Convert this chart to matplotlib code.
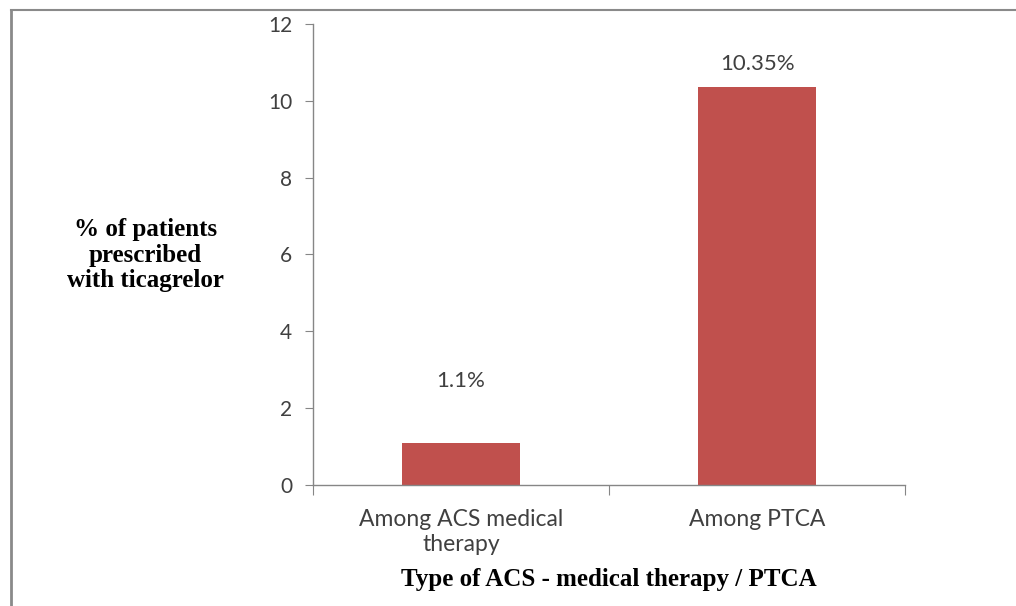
import numpy as np
import matplotlib
matplotlib.use("Agg")
import matplotlib.pyplot as plt
from matplotlib.lines import Line2D

categories = ["Among ACS medical\ntherapy", "Among PTCA"]
values = [1.1, 10.35]
value_labels = ["1.1%", "10.35%"]
yticks = [0, 2, 4, 6, 8, 10, 12]

fig = plt.figure(figsize=(10.16, 6.06), dpi=100)
ax = fig.add_axes([0.308, 0.1997, 0.583, 0.7607])

x = np.arange(len(categories))
ax.bar(x, values, width=0.4, color="#C0504D", zorder=2)

ax.set_xlim(-0.5, len(categories) - 0.5)
ax.set_ylim(0, 12)
ax.set_yticks(yticks)
ax.set_yticklabels([str(t) for t in yticks], fontsize=15, family="Lato", color="#404040")

# category boundaries get the ticks, labels sit in the middle
ax.set_xticks(np.arange(-0.5, len(categories)))
ax.set_xticklabels([])
ax.set_xticks(x, minor=True)
ax.set_xticklabels(categories, minor=True, fontsize=16.5, family="Lato", color="#404040",
                   linespacing=1.25)
ax.tick_params(axis="x", which="minor", length=0, pad=17)
ax.tick_params(axis="x", which="major", length=7, color="#868686", direction="out")
ax.tick_params(axis="y", length=6, color="#868686", direction="out", pad=9)

for s in ["top", "right"]:
    ax.spines[s].set_visible(False)
for s in ["left", "bottom"]:
    ax.spines[s].set_color("#868686")
    ax.spines[s].set_linewidth(1)

# data labels (hand placed in the original)
offsets = [62, 23]
for xi, v, lab, off in zip(x, values, value_labels, offsets):
    ax.annotate(lab, (xi, v), xytext=(0, off * 0.72), textcoords="offset points",
                ha="center", va="center", fontsize=16, family="Lato", color="#404040")

fig.text(0.143, 0.579, "% of patients\nprescribed\nwith ticagrelor", ha="center", va="center",
         fontsize=18, family="Liberation Serif", fontweight="bold", linespacing=1.12)
fig.text(0.599, 0.043, "Type of ACS - medical therapy / PTCA", ha="center", va="center",
         fontsize=18, family="Liberation Serif", fontweight="bold")

# frame of the scanned figure
fig.add_artist(Line2D([0.011, 0.011], [0.0, 0.984], transform=fig.transFigure,
                      color="#8a8a8a", linewidth=2))
fig.add_artist(Line2D([0.011, 1.0], [0.984, 0.984], transform=fig.transFigure,
                      color="#8a8a8a", linewidth=1.5))

fig.savefig("out.png", dpi=100)
